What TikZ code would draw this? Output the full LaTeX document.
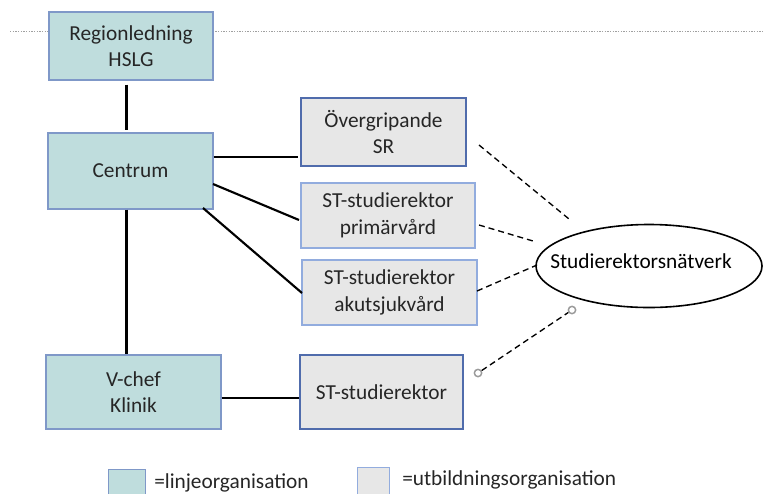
\documentclass[tikz,border=0pt]{standalone}
\usepackage{fontspec}
\setmainfont{Carlito}
\usetikzlibrary{shapes.geometric,calc}
\definecolor{linjefill}{RGB}{191,221,221}
\definecolor{linjedraw}{RGB}{127,152,200}
\definecolor{utbfill}{RGB}{231,231,231}
\definecolor{utbdark}{RGB}{80,108,172}
\definecolor{utblight}{RGB}{146,172,222}
\definecolor{dotgray}{RGB}{160,160,160}
\begin{document}
\begin{tikzpicture}[x=0.75pt,y=-0.75pt,
  every node/.style={font=\fontsize{16}{20}\selectfont, text=black!85, inner sep=0pt, align=center},
  linjebox/.style={rectangle, draw=linjedraw, fill=linjefill, line width=0.8pt},
  utbbox/.style={rectangle, draw=utbdark, fill=utbfill, line width=0.8pt},
  utbboxl/.style={rectangle, draw=utblight, fill=utbfill, line width=0.8pt},
  conn/.style={line width=1.6pt, black},
  dconn/.style={line width=1pt, black, dash pattern=on 4.5pt off 3pt},
  ring/.style={circle, draw=black!40, fill=white, line width=1.1pt, minimum size=5.5pt}]
\clip (0,0) rectangle (763,493);
\useasboundingbox (0,0) rectangle (763,493);

% dotted guide line
\coordinate (gl) at (10,31);
\coordinate (gr) at (763,31);
\draw[dotgray, line width=0.6pt, dash pattern=on 1pt off 1pt] (gl) -- (gr);

% nodes
\node[linjebox, minimum width=123pt, minimum height=51pt] (reg) at (131,46) {Regionledning\\HSLG};
\node[linjebox, minimum width=123.75pt, minimum height=57pt] (cent) at (130.5,171) {Centrum};
\node[utbbox, minimum width=123.75pt, minimum height=51pt] (sr) at (383.5,132) {Övergripande\\SR};
\node[utbboxl, minimum width=130.5pt, minimum height=48.75pt] (prim) at (388,215.5) {ST-studierektor\\primärvård};
\node[utbboxl, minimum width=131.25pt, minimum height=48.75pt] (akut) at (389.5,292.5) {ST-studierektor\\akutsjukvård};
\node[linjebox, minimum width=131.25pt, minimum height=55.5pt] (vchef) at (133.5,392) {V-chef\\Klinik};
\node[utbbox, minimum width=122.25pt, minimum height=55.5pt] (st) at (381.5,392) {ST-studierektor};
\node[ellipse, draw=black, line width=1.2pt, fill=white, minimum width=169.5pt, minimum height=62.25pt] (net) at (649,266) {};
\node[text=black] (nettext) at (641,261) {Studierektorsnätverk};

% solid connectors
\coordinate (vx) at (126.5,0);
\coordinate (ya) at (0,157);
\coordinate (yv) at (0,398);
\coordinate (p1) at (213,184);
\coordinate (p2) at (299,220);
\coordinate (q1) at (203,208);
\coordinate (q2) at (302,293);
\draw[conn, shorten <=3pt, shorten >=2pt] (reg.south -| vx) -- (cent.north -| vx);
\draw[conn] (cent.south -| vx) -- (vchef.north -| vx);
\draw[conn, shorten >=2pt] (cent.east |- ya) -- (sr.west |- ya);
\draw[conn] (p1) -- (p2);
\draw[conn] (q1) -- (q2);
\draw[conn] (vchef.east |- yv) -- (st.west |- yv);

% dashed connectors
\coordinate (d1a) at (479,145);
\coordinate (d1b) at (569,219);
\coordinate (d2a) at (479,225);
\coordinate (d2b) at (533,241);
\coordinate (d3a) at (477,291);
\coordinate (d3b) at (537,265);
\draw[dconn] (d1a) -- (d1b);
\draw[dconn] (d2a) -- (d2b);
\draw[dconn] (d3a) -- (d3b);
\node[ring] (c1) at (478,373) {};
\node[ring] (c2) at (572,310) {};
\draw[dconn] (c1) -- (c2);

% legend
\node[linjebox, minimum width=27.75pt, minimum height=30pt, anchor=north west] (lg1) at (108,469) {};
\node[anchor=base west] (lt1) at (154,488) {=linjeorganisation};
\node[utbboxl, minimum width=24pt, minimum height=30pt, anchor=north west] (lg2) at (357,467) {};
\node[anchor=base west] (lt2) at (402,485) {=utbildningsorganisation};
\end{tikzpicture}
\end{document}
